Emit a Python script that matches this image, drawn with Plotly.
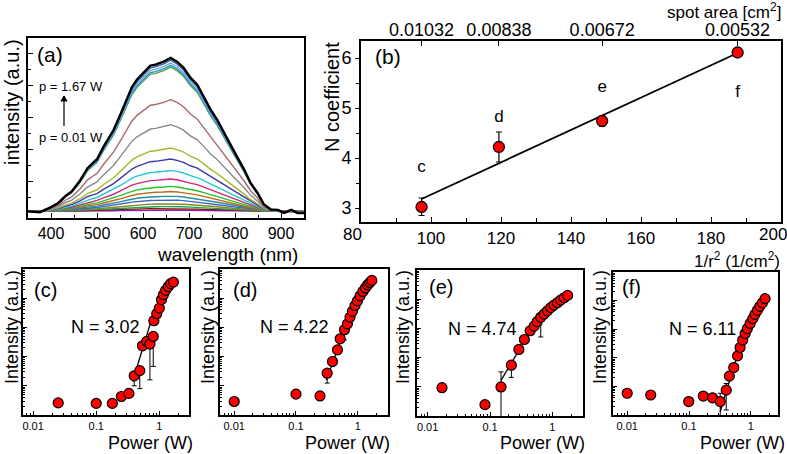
import plotly.graph_objects as go

W, H = 787, 454
FONT = "Arial, Liberation Sans, sans-serif"

# ---------------- (a) PL spectra ----------------
wavelength_nm = [350, 376, 398, 416, 431, 445, 463, 479, 489, 500, 514, 522, 536, 552,
                 565, 576, 587, 602, 616, 627, 645, 660, 674, 688, 703, 718, 732, 747,
                 761, 776, 798, 820, 834, 849, 863, 878, 893, 907, 922, 936, 951]
profile_top = [0.00, -0.005, 0.025, 0.055, 0.10, 0.13, 0.20, 0.28, 0.31, 0.34, 0.42, 0.46,
               0.53, 0.64, 0.73, 0.81, 0.86, 0.905, 0.95, 0.957, 0.976, 1.0, 0.976, 0.937,
               0.872, 0.826, 0.75, 0.663, 0.598, 0.511, 0.391, 0.272, 0.185, 0.12, 0.045,
               0.012, 0.01, -0.01, 0.01, -0.01, -0.01]
peak_levels = [1.0, 0.985, 0.967, 0.952, 0.94, 0.728, 0.565, 0.413, 0.341, 0.267, 0.211,
               0.163, 0.130, 0.10, 0.075, 0.05, 0.032, 0.018, 0.008]
curve_colors = ["#000000", "#2e5fa8", "#7aa8e0", "#1a9ad0", "#5e9e3e", "#a86a6a", "#8a8a8a",
                "#a8b428", "#3a3aa8", "#22c8d8", "#d0287a", "#28c028", "#b86a14", "#2a8aa0",
                "#3a6ac8", "#8a8a10", "#20a060", "#8a1010", "#9020c0"]

# ---------------- (b) N coefficient ----------------
inv_r2 = [97.3, 119.4, 148.9, 187.6]
n_coeff = [3.02, 4.22, 4.74, 6.11]
n_err_plus = [0.18, 0.30, 0.10, 0.05]
n_err_minus = [0.17, 0.30, 0.11, 0.05]
spot_area_labels = ["0.01032", "0.00838", "0.00672", "0.00532"]
point_letters = ["c", "d", "e", "f"]
letter_y = [3.8, 4.8, 5.4, 5.3]
fit_b_x = [97.3, 187.6]
fit_b_y = [3.18, 6.10]
inv_r2_ticks = [100, 120, 140, 160, 180]
inv_r2_minor = [90, 110, 130, 150, 170, 190]

# ---------------- (c)-(f) power dependence ----------------
power_c = [0.025, 0.10, 0.18, 0.25, 0.33, 0.40, 0.49, 0.54, 0.63, 0.71, 0.80, 0.82, 0.91,
           1.00, 1.08, 1.16, 1.26, 1.39, 1.51, 1.67]
inten_c = [2.6, 2.5, 2.5, 4.3, 5.5, 22, 33, 234, 331, 269, 490, 1700, 2950, 4570, 8910,
           13200, 18600, 25100, 31600, 35500]
errp_c = [0, 0, 0, 0, 0, 8, 9, 0, 0, 0, 0, 0, 0, 0, 0, 0, 0, 0, 0, 0]
errm_c = [0, 0, 0, 0, 0, 12, 25, 0, 0, 253, 444, 0, 0, 0, 0, 0, 0, 0, 0, 0]
fit_c_p = [0.377, 0.82]
fit_c_i = [14.1, 3390]

power_d = [0.01, 0.10, 0.245, 0.32, 0.39, 0.47, 0.52, 0.61, 0.68, 0.75, 0.82, 0.905, 0.99,
           1.09, 1.21, 1.33, 1.45, 1.57, 1.69]
inten_d = [2.9, 5.2, 4.5, 27, 68, 170, 407, 832, 1320, 2240, 3550, 5620, 8130, 12000,
           17000, 22400, 28800, 34700, 40700]
errp_d = [0, 0, 0, 4, 8, 0, 0, 0, 0, 0, 0, 0, 0, 0, 0, 0, 0, 0, 0]
errm_d = [0, 0, 0, 14.6, 20, 0, 0, 460, 0, 0, 0, 0, 0, 0, 0, 0, 0, 0, 0]
fit_d_p = [0.31, 0.75]
fit_d_i = [15.8, 2510]

power_e = [0.017, 0.083, 0.15, 0.22, 0.29, 0.355, 0.44, 0.51, 0.57, 0.65, 0.735, 0.83,
           0.94, 1.06, 1.20, 1.36, 1.54, 1.75]
inten_e = [9.3, 2.45, 9.9, 55, 190, 417, 832, 1200, 1700, 2400, 3090, 3980, 5130, 6310,
           7590, 9330, 11200, 13500]
errp_e = [0, 0, 22.5, 0, 0, 0, 0, 0, 0, 0, 0, 0, 0, 0, 0, 0, 0, 0]
errm_e = [0, 0, 9.8, 34, 0, 0, 0, 0, 0, 1890, 0, 0, 0, 0, 0, 0, 0, 0]
fit_e_p = [0.15, 0.39]
fit_e_i = [16.6, 513]

power_f = [0.01, 0.024, 0.099, 0.17, 0.24, 0.32, 0.40, 0.45, 0.53, 0.61, 0.67, 0.74, 0.81,
           0.88, 0.975, 1.08, 1.17, 1.28, 1.40, 1.54, 1.70]
inten_f = [5.75, 5.0, 2.95, 4.6, 4.0, 2.95, 7.4, 22.9, 45.7, 117, 229, 417, 708, 1050,
           1590, 2340, 3310, 4570, 6310, 8320, 11700]
errp_f = [0, 0, 0, 0, 0, 2.8, 5.2, 0, 0, 0, 0, 0, 0, 0, 0, 0, 0, 0, 0, 0, 0]
errm_f = [0, 0, 0, 0, 0, 2.9, 5.9, 0, 0, 0, 0, 0, 0, 0, 0, 0, 0, 0, 0, 0, 0]
fit_f_p = [0.32, 0.72]
fit_f_i = [1.3, 417]

n_labels = ["N = 3.02", "N = 4.22", "N = 4.74", "N = 6.11"]


def xd(a, b):
    return [a / W, b / W]


def yd(t, b):
    return [1 - b / H, 1 - t / H]


def P(x, y):
    return x / W, 1 - y / H


fig = go.Figure()

# spectra (lowest first)
for lvl, col in reversed(list(zip(peak_levels, curve_colors))):
    fig.add_trace(go.Scatter(
        x=wavelength_nm, y=[lvl * v for v in profile_top], mode="lines",
        line=dict(color=col, width=2.4 if col == "#000000" else 1.4),
        xaxis="x", yaxis="y", showlegend=False, hoverinfo="skip"))

# (b)
fig.add_trace(go.Scatter(x=fit_b_x, y=fit_b_y, mode="lines", line=dict(color="black", width=1.8),
                         xaxis="x2", yaxis="y2", showlegend=False))
fig.add_trace(go.Scatter(
    x=inv_r2, y=n_coeff, mode="markers",
    marker=dict(color="#ff0000", size=11, line=dict(color="black", width=1.3)),
    error_y=dict(type="data", array=n_err_plus, arrayminus=n_err_minus, color="black",
                 thickness=1.2, width=3),
    xaxis="x2", yaxis="y2", showlegend=False))
# same points on the top (spot area) axis, invisible, so that axis is drawn
fig.add_trace(go.Scatter(x=inv_r2, y=n_coeff, mode="markers", marker=dict(opacity=0),
                         xaxis="x7", yaxis="y2", showlegend=False, hoverinfo="skip"))
fig.add_trace(go.Scatter(x=inv_r2, y=letter_y, mode="text", text=point_letters,
                         textfont=dict(family=FONT, size=17, color="black"),
                         xaxis="x2", yaxis="y2", showlegend=False))

panels = [
    ("x3", "y3", power_c, inten_c, errp_c, errm_c, fit_c_p, fit_c_i),
    ("x4", "y4", power_d, inten_d, errp_d, errm_d, fit_d_p, fit_d_i),
    ("x5", "y5", power_e, inten_e, errp_e, errm_e, fit_e_p, fit_e_i),
    ("x6", "y6", power_f, inten_f, errp_f, errm_f, fit_f_p, fit_f_i),
]
for xa, ya, pw, it, ep, em, fp, fi in panels:
    fig.add_trace(go.Scatter(x=fp, y=fi, mode="lines", line=dict(color="black", width=1.3),
                             xaxis=xa, yaxis=ya, showlegend=False))
    fig.add_trace(go.Scatter(
        x=pw, y=it, mode="markers",
        marker=dict(color="#ff0000", size=10, line=dict(color="black", width=1.2)),
        error_y=dict(type="data", array=ep, arrayminus=em, color="black", thickness=1, width=2.5),
        xaxis=xa, yaxis=ya, showlegend=False))

lay = dict(width=W, height=H, margin=dict(l=0, r=0, t=0, b=0),
           paper_bgcolor="white", plot_bgcolor="white", showlegend=False,
           font=dict(family=FONT, color="black"))

axline = dict(showline=True, linecolor="black", linewidth=1.6, mirror=True,
              showgrid=False, zeroline=False)

lay["xaxis"] = dict(axline, domain=xd(28, 304), range=[350, 950], anchor="y",
                    tickvals=[400, 500, 600, 700, 800, 900], ticks="inside", ticklen=5,
                    tickcolor="black", tickfont=dict(size=16),
                    minor=dict(tickvals=[450, 550, 650, 750, 850], ticks="inside", ticklen=3,
                               tickcolor="black"))
lay["yaxis"] = dict(axline, domain=yd(38, 218), range=[-0.043, 1.13], anchor="x",
                    tickvals=[0.196, 0.405, 0.613, 0.822, 1.03], ticks="inside", ticklen=5,
                    tickcolor="black", showticklabels=False,
                    minor=dict(tickvals=[0.0915, 0.30, 0.509, 0.717, 0.926], ticks="inside",
                               ticklen=3, tickcolor="black"))

lay["xaxis2"] = dict(axline, domain=xd(361, 781), range=[80, 200], anchor="y2",
                     tickvals=inv_r2_ticks, ticks="inside", ticklen=5,
                     tickcolor="black", tickfont=dict(size=17),
                     minor=dict(tickvals=inv_r2_minor, ticks="inside",
                                ticklen=4, tickcolor="black"))
lay["yaxis2"] = dict(axline, domain=yd(41, 222), range=[2.72, 6.34], anchor="x2",
                     tickvals=[3, 4, 5, 6], ticks="outside", ticklen=4, tickcolor="black",
                     tickfont=dict(size=18),
                     minor=dict(tickvals=[3.5, 4.5, 5.5], ticks="outside", ticklen=3,
                                tickcolor="black"))
lay["xaxis7"] = dict(overlaying="x2", side="top", range=[80, 200], anchor="y2",
                     showgrid=False, zeroline=False, showline=False,
                     tickvals=inv_r2, ticktext=spot_area_labels, ticks="inside", ticklen=5,
                     tickcolor="black", tickfont=dict(size=18))

minor_log_x = [k * 10 ** e for e in (-3, -2, -1, 0) for k in range(2, 10)]
minor_log_y = [k * 10 ** e for e in range(0, 5) for k in range(2, 10)]
bottom_dom = [
    ("3", xd(23, 189), yd(269, 415), [-2.16, 0.47]),
    ("4", xd(220, 388), yd(269, 415), [-2.23, 0.49]),
    ("5", xd(417, 583), yd(270, 416), [-2.17, 0.49]),
    ("6", xd(613, 778), yd(272, 415), [-2.23, 0.44]),
]
for k, dx, dy, rx in bottom_dom:
    lay["xaxis" + k] = dict(axline, domain=dx, type="log", range=rx, anchor="y" + k,
                            tickvals=[0.01, 0.1, 1], ticktext=["0.01", "0.1", "1"],
                            ticks="inside", ticklen=4, tickcolor="black",
                            tickfont=dict(size=11),
                            minor=dict(tickvals=minor_log_x, ticks="inside", ticklen=2,
                                       tickcolor="black"))
    lay["yaxis" + k] = dict(axline, domain=dy, type="log", range=[0, 5], anchor="x" + k,
                            tickvals=[1, 10, 100, 1000, 10000, 100000], ticks="inside",
                            ticklen=4, tickcolor="black", showticklabels=False,
                            minor=dict(tickvals=minor_log_y, ticks="inside", ticklen=2,
                                       tickcolor="black"))

ann = []


def text(x, y, s, size, xanchor="center", angle=0):
    px, py = P(x, y)
    ann.append(dict(x=px, y=py, xref="paper", yref="paper", text=s, showarrow=False,
                    xanchor=xanchor, yanchor="middle", textangle=angle,
                    font=dict(family=FONT, size=size, color="black")))


text(35, 55, "(a)", 21, "left")
text(37, 86, "p = 1.67 W", 13, "left")
text(37, 137, "p = 0.01 W", 13, "left")
text(227, 254, "wavelength (nm)", 19)
text(12, 102, "intensity (a.u.)", 20, angle=-90)

text(373, 57, "(b)", 21, "left")
text(332, 97, "N coefficient", 20, angle=-90)
text(782, 260, "1/r<sup>2</sup> (1/cm<sup>2</sup>)", 17, "right")
text(783, 11, "spot area [cm<sup>2</sup>]", 17, "right")
text(352, 234, "80", 17)
text(773, 234, "200", 17)

letter_pos = [(32, 290), (231, 290), (427, 287), (620, 287)]
for (lx, ly), s in zip(letter_pos, ["(c)", "(d)", "(e)", "(f)"]):
    text(lx, ly, s, 20, "left")
n_pos = [(105, 327), (294, 327), (482, 329), (702, 329)]
for (nx, ny), s in zip(n_pos, n_labels):
    text(nx, ny, s, 18)
for x0 in [12, 208, 403, 600]:
    text(x0, 327, "Intensity (a.u.)", 18, angle=-90)
for x0 in [150, 347, 542, 742]:
    text(x0, 443, "Power (W)", 18)

# arrow in (a): shaft + head as shapes in paper coordinates
ax0, ay0 = P(64, 126)
ax1, ay1 = P(64, 96)
hl, hb = P(61, 101)
hr, _ = P(67, 101)
shapes = [
    dict(type="line", xref="paper", yref="paper", x0=ax0, y0=ay0, x1=ax1, y1=ay1,
         line=dict(color="black", width=1.2)),
    dict(type="path", xref="paper", yref="paper",
         path=f"M {hl} {hb} L {ax1} {ay1} L {hr} {hb} Z",
         fillcolor="black", line=dict(color="black", width=1)),
]

lay["annotations"] = ann
lay["shapes"] = shapes
fig.update_layout(**lay)
fig.write_html("out.html", config={"displayModeBar": False},
               post_script="document.body.style.margin='0px';document.body.style.padding='0px';")
